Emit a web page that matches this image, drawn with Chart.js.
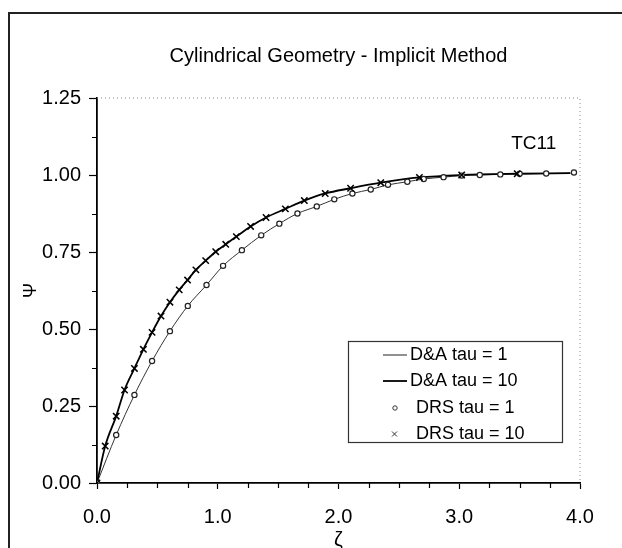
<!DOCTYPE html>
<html>
<head>
<meta charset="utf-8">
<script src="https://cdn.jsdelivr.net/npm/chart.js@4.4.1/dist/chart.umd.min.js"></script>
<style>
  html, body { margin: 0; padding: 0; background: #fff; }
  #wrap { position: relative; width: 622px; height: 548px; }
</style>
</head>
<body>
<div id="wrap"><canvas id="c" width="622" height="548"></canvas></div>
<script>
// ---- data ----
const chartTitle = "Cylindrical Geometry - Implicit Method";
const xTickLabels = ["0.0", "1.0", "2.0", "3.0", "4.0"];
const yTickLabels = ["0.00", "0.25", "0.50", "0.75", "1.00", "1.25"];
const seriesNames = ["D&A tau = 1", "D&A tau = 10", "DRS tau = 1", "DRS tau = 10"];
const caseLabel = "TC11";

const daTau1X = [0, 0.159, 0.31, 0.456, 0.604, 0.752, 0.907, 1.044, 1.20, 1.36, 1.51, 1.66, 1.82, 1.965, 2.115, 2.267, 2.41, 2.57, 2.706, 2.87, 3.02, 3.17, 3.34, 3.50, 3.72, 3.92];
const daTau1Y = [0, 0.156, 0.286, 0.396, 0.493, 0.575, 0.643, 0.705, 0.756, 0.804, 0.842, 0.875, 0.898, 0.921, 0.940, 0.953, 0.968, 0.978, 0.987, 0.993, 0.998, 1.000, 1.002, 1.004, 1.005, 1.006];

const daTau10X = [0, 0.068, 0.159, 0.228, 0.31, 0.384, 0.456, 0.53, 0.604, 0.681, 0.75, 0.819, 0.90, 0.983, 1.066, 1.154, 1.272, 1.40, 1.56, 1.717, 1.89, 2.10, 2.35, 2.67, 3.02, 3.48, 3.92];
const daTau10Y = [0, 0.120, 0.217, 0.302, 0.372, 0.434, 0.489, 0.542, 0.587, 0.627, 0.659, 0.692, 0.722, 0.751, 0.775, 0.800, 0.833, 0.862, 0.890, 0.917, 0.940, 0.957, 0.975, 0.992, 1.000, 1.004, 1.006];

const drsTau1X = [0, 0.159, 0.31, 0.456, 0.604, 0.752, 0.907, 1.044, 1.20, 1.36, 1.51, 1.66, 1.82, 1.965, 2.115, 2.267, 2.41, 2.57, 2.706, 2.87, 3.02, 3.17, 3.34, 3.50, 3.72, 3.95];
const drsTau1Y = [0, 0.156, 0.286, 0.396, 0.493, 0.575, 0.643, 0.705, 0.756, 0.804, 0.842, 0.875, 0.898, 0.921, 0.940, 0.953, 0.968, 0.978, 0.987, 0.993, 0.998, 1.000, 1.002, 1.004, 1.005, 1.008];

const drsTau10X = [0, 0.068, 0.159, 0.228, 0.31, 0.384, 0.456, 0.53, 0.604, 0.681, 0.75, 0.819, 0.90, 0.983, 1.066, 1.154, 1.272, 1.40, 1.56, 1.717, 1.89, 2.10, 2.35, 2.67, 3.02, 3.48];
const drsTau10Y = [0, 0.120, 0.217, 0.302, 0.372, 0.434, 0.489, 0.542, 0.587, 0.627, 0.659, 0.692, 0.722, 0.751, 0.775, 0.800, 0.833, 0.862, 0.890, 0.917, 0.940, 0.957, 0.975, 0.992, 1.000, 1.004];

const toPts = (xs, ys) => xs.map((x, i) => ({ x: x, y: ys[i] }));
const FONT = "'Liberation Sans', Arial, sans-serif";

// ---- plugins for decorations ----
const framePlugin = {
  id: 'frame',
  beforeDraw(chart) {
    const ctx = chart.ctx;
    ctx.save();
    ctx.fillStyle = '#fff';
    ctx.fillRect(0, 0, chart.width, chart.height);
    ctx.strokeStyle = '#222';
    ctx.lineWidth = 2;
    ctx.beginPath();
    ctx.moveTo(9, 548); ctx.lineTo(9, 13); ctx.lineTo(622, 13);
    ctx.stroke();
    // title
    const a = chart.chartArea;
    ctx.fillStyle = '#000';
    ctx.font = '20px ' + FONT;
    ctx.textAlign = 'center';
    ctx.textBaseline = 'middle';
    ctx.fillText(chartTitle, (a.left + a.right) / 2, 56);
    ctx.restore();
  },
  beforeDatasetsDraw(chart) {
    const ctx = chart.ctx;
    const a = chart.chartArea;
    const xs = chart.scales.x, ys = chart.scales.y;
    ctx.save();
    // dotted top/right border of plot area
    ctx.strokeStyle = '#888';
    ctx.lineWidth = 1;
    ctx.setLineDash([1, 3]);
    ctx.beginPath();
    ctx.moveTo(a.left, a.top); ctx.lineTo(a.right, a.top); ctx.lineTo(a.right, a.bottom);
    ctx.stroke();
    ctx.setLineDash([]);
    // minor ticks
    ctx.strokeStyle = '#000';
    ctx.lineWidth = 1.2;
    ctx.beginPath();
    for (let v = 0.125; v < 1.25; v += 0.25) {
      const py = Math.round(ys.getPixelForValue(v)) + 0.5;
      ctx.moveTo(a.left - 5, py); ctx.lineTo(a.left, py);
    }
    for (let v = 0.25; v < 4; v += 0.25) {
      if (Math.abs(v - Math.round(v)) < 1e-6) continue;
      const px = Math.round(xs.getPixelForValue(v)) + 0.5;
      ctx.moveTo(px, a.bottom); ctx.lineTo(px, a.bottom + 5);
    }
    ctx.stroke();
    // case label
    ctx.fillStyle = '#000';
    ctx.font = '19px ' + FONT;
    ctx.textAlign = 'left';
    ctx.textBaseline = 'middle';
    ctx.fillText(caseLabel, xs.getPixelForValue(3.43), ys.getPixelForValue(1.10));
    ctx.restore();
  },
  afterDatasetsDraw(chart) {
    const ctx = chart.ctx;
    ctx.save();
    // legend box
    const bx = 348, by = 341, bw = 214, bh = 101;
    ctx.fillStyle = '#fff';
    ctx.fillRect(bx, by, bw, bh);
    ctx.strokeStyle = '#333';
    ctx.lineWidth = 1.2;
    ctx.strokeRect(bx + 0.5, by + 0.5, bw, bh);
    const rows = [355, 381, 408, 434];
    ctx.font = '18px ' + FONT;
    ctx.textBaseline = 'middle';
    ctx.textAlign = 'left';
    ctx.fillStyle = '#000';
    // row 1: thin line
    ctx.strokeStyle = '#222'; ctx.lineWidth = 1;
    ctx.beginPath(); ctx.moveTo(383, rows[0]); ctx.lineTo(407, rows[0]); ctx.stroke();
    ctx.fillText(seriesNames[0], 410, rows[0]);
    // row 2: thick line
    ctx.strokeStyle = '#000'; ctx.lineWidth = 1.8;
    ctx.beginPath(); ctx.moveTo(383, rows[1]); ctx.lineTo(407, rows[1]); ctx.stroke();
    ctx.fillText(seriesNames[1], 410, rows[1]);
    // row 3: small circle
    ctx.lineWidth = 1; ctx.strokeStyle = '#333';
    ctx.beginPath(); ctx.arc(395, rows[2], 2.2, 0, Math.PI * 2); ctx.stroke();
    ctx.fillText(seriesNames[2], 416, rows[2]);
    // row 4: small x
    ctx.beginPath();
    ctx.moveTo(392, rows[3] - 2.5); ctx.lineTo(397, rows[3] + 2.5);
    ctx.moveTo(397, rows[3] - 2.5); ctx.lineTo(392, rows[3] + 2.5);
    ctx.stroke();
    ctx.fillText(seriesNames[3], 416, rows[3]);
    ctx.restore();
  }
};

new Chart(document.getElementById('c'), {
  type: 'scatter',
  data: {
    datasets: [
      { label: seriesNames[0], data: toPts(daTau1X, daTau1Y), showLine: true, borderColor: '#333', borderWidth: 1, pointRadius: 0, cubicInterpolationMode: 'monotone', order: 4 },
      { label: seriesNames[1], data: toPts(daTau10X, daTau10Y), showLine: true, borderColor: '#000', borderWidth: 1.8, pointRadius: 0, cubicInterpolationMode: 'monotone', order: 3 },
      { label: seriesNames[2], data: toPts(drsTau1X, drsTau1Y), showLine: false, pointStyle: 'circle', pointRadius: 2.6, borderColor: '#222', backgroundColor: '#fff', borderWidth: 1.2, order: 2 },
      { label: seriesNames[3], data: toPts(drsTau10X, drsTau10Y), showLine: false, pointStyle: 'crossRot', pointRadius: 4.5, borderColor: '#000', borderWidth: 1.5, order: 1 }
    ]
  },
  options: {
    responsive: false,
    animation: false,
    events: [],
    layout: { padding: { left: 0, right: 42, top: 98, bottom: 0 } },
    plugins: { legend: { display: false }, tooltip: { enabled: false }, title: { display: false } },
    scales: {
      x: {
        type: 'linear', min: 0, max: 4,
        afterFit(s) { s.height = 65; },
        afterBuildTicks(s) { s.ticks = xTickLabels.map(t => ({ value: parseFloat(t) })); },
        ticks: { callback: (v) => xTickLabels.find(t => parseFloat(t) === v) || '', color: '#000', font: { size: 20, family: FONT }, padding: 16, maxRotation: 0 },
        grid: { drawOnChartArea: false, drawTicks: true, tickLength: 6, color: '#000', tickWidth: 1.2 },
        border: { display: true, color: '#000', width: 1.8 },
        title: { display: true, text: 'ζ', color: '#000', font: { size: 20, family: FONT }, padding: { top: 0, bottom: -4 } }
      },
      y: {
        type: 'linear', min: 0, max: 1.25,
        afterFit(s) { s.width = 97; },
        afterBuildTicks(s) { s.ticks = yTickLabels.map(t => ({ value: parseFloat(t) })); },
        ticks: { callback: (v) => yTickLabels.find(t => parseFloat(t) === v) || '', color: '#000', font: { size: 20, family: FONT }, padding: 8 },
        grid: { drawOnChartArea: false, drawTicks: true, tickLength: 8, color: '#000', tickWidth: 1.2 },
        border: { display: true, color: '#000', width: 1.8 },
        title: { display: true, text: 'Ψ', color: '#000', font: { size: 18, family: FONT }, padding: { top: 20, bottom: 0 } }
      }
    }
  },
  plugins: [framePlugin]
});
</script>
</body>
</html>
